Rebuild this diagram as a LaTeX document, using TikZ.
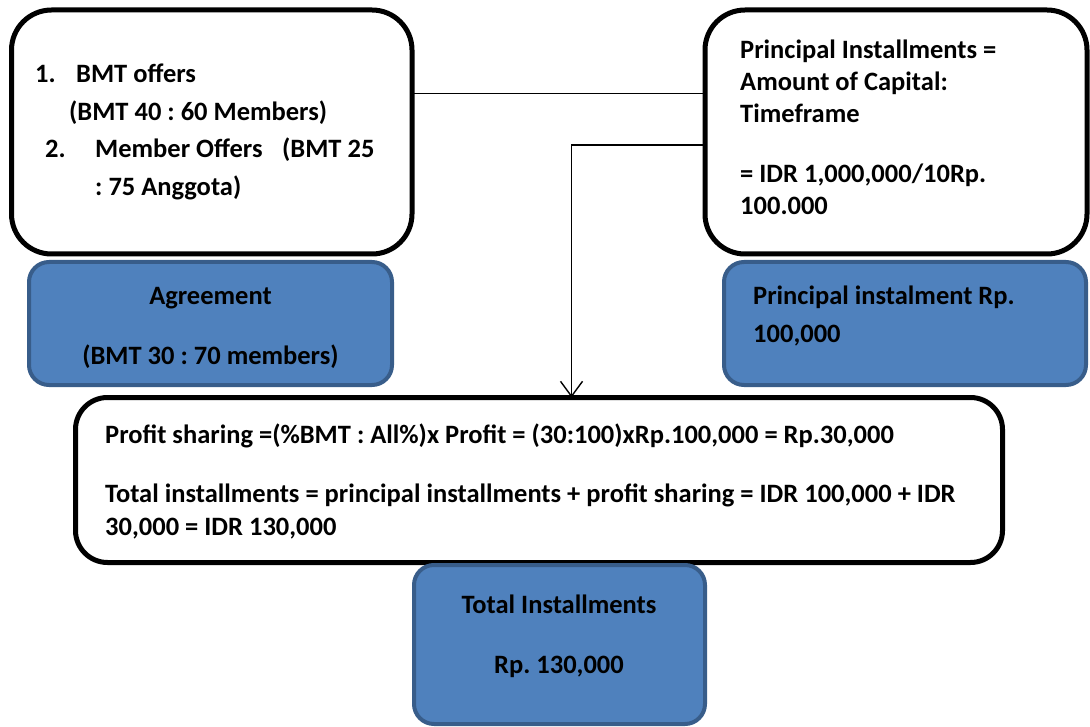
\documentclass[tikz,border=0pt]{standalone}
\usepackage{fontspec}
\setmainfont{Carlito}
\usetikzlibrary{arrows.meta}
\definecolor{bfill}{HTML}{4F81BD}
\definecolor{bline}{HTML}{385D8A}
\tikzset{
  wbox/.style={draw=black, line width=5pt, fill=white, rounded corners=#1, outer sep=0pt, inner sep=0pt},
  bbox/.style={draw=bline, line width=4pt, fill=bfill, rounded corners=20pt, outer sep=0pt, inner sep=0pt},
  txt/.style={inner sep=0pt, font=\fontsize{26.5}{30}\selectfont\bfseries\frenchspacing},
  conn/.style={draw=black, line width=1.4pt},
  arr/.style={conn, -{Straight Barb[length=15pt,width=22pt,line width=1.4pt]}}
}
\begin{document}
\begin{tikzpicture}[x=1pt,y=-1pt]
\useasboundingbox (0,0) rectangle (1090,727);
% boxes
\node[wbox=40pt, minimum width=400.5pt, minimum height=244pt] (L) at (211.75,132) {};
\node[wbox=40pt, minimum width=382pt, minimum height=244pt] (R) at (896,132) {};
\node[bbox, minimum width=363pt, minimum height=123pt] (A) at (210.5,323.5) {};
\node[bbox, minimum width=362pt, minimum height=123pt] (P) at (905,323.5) {};
\node[wbox=32pt, minimum width=927pt, minimum height=165pt] (M) at (539,480) {};
\node[bbox, minimum width=291pt, minimum height=159pt] (T) at (559.5,644.5) {};
% connectors
\draw[conn] ([yshift=38.5pt]L.east) -- ([yshift=38.5pt]L.east -| R.west);
\draw[arr] ([yshift=-13pt]R.west) -| ([xshift=32.5pt]M.north);
% left box text
\node[txt, anchor=base west] (l1a) at (35,83) {1.};
\node[txt, anchor=base west] (l1b) at (76,83) {BMT offers};
\node[txt, anchor=base west] (l2) at (69,121) {(BMT 40 : 60 Members)};
\node[txt, anchor=base west] (l3a) at (45,158) {2.};
\node[txt, anchor=base west] (l3b) at (95,158) {Member Offers};
\node[txt, anchor=base west] (l3c) at (282,158) {(BMT 25};
\node[txt, anchor=base west] (l4) at (95,196) {: 75 Anggota)};
% right box text
\node[txt, anchor=base west] (r1) at (740,59) {Principal Installments =};
\node[txt, anchor=base west] (r2) at (740,91) {Amount of Capital:};
\node[txt, anchor=base west] (r3) at (740,123) {Timeframe};
\node[txt, anchor=base west] (r4) at (740,183) {= IDR 1,000,000/10Rp.};
\node[txt, anchor=base west] (r5) at (740,215) {100.000};
% blue boxes text
\node[txt, anchor=base] (a1) at (210.5,305) {Agreement};
\node[txt, anchor=base] (a2) at (210.5,364) {(BMT 30 : 70 members)};
\node[txt, anchor=base west] (p1) at (753,305) {Principal instalment Rp.};
\node[txt, anchor=base west] (p2) at (753,343) {100,000};
\node[txt, anchor=base] (t1) at (559,613) {Total Installments};
\node[txt, anchor=base] (t2) at (559,673) {Rp. 130,000};
% main box text
\node[txt, anchor=base west] (m1) at (105,443) {Profit sharing =(\%BMT : All\%)x Profit = (30:100)xRp.100,000 = Rp.30,000};
\node[txt, anchor=base west] (m2) at (105,502) {Total installments = principal installments + profit sharing = IDR 100,000 + IDR};
\node[txt, anchor=base west] (m3) at (105,535) {30,000 = IDR 130,000};
\end{tikzpicture}
\end{document}
